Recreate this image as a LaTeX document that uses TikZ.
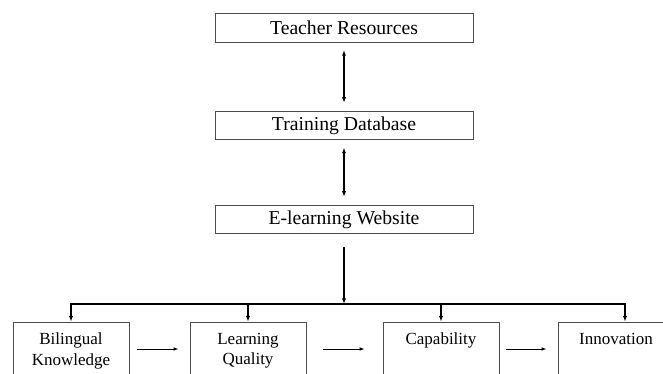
\documentclass[tikz,border=0pt]{standalone}
\usepackage{fontspec}
\setmainfont{Liberation Serif}
\usetikzlibrary{arrows.meta}

\begin{document}
\begin{tikzpicture}[x=0.03cm, y=-0.03cm,
    topbox/.style={draw=black!70, line width=0.7pt, minimum width=7.74cm,
      minimum height=0.86cm, inner sep=0pt, font=\fontsize{16.8}{20}\selectfont},
    lowbox/.style={draw=black!70, line width=0.7pt, minimum width=3.48cm,
      minimum height=1.62cm, inner sep=0pt},
    lowtext/.style={anchor=north, yshift=-0.22cm, align=center,
      font=\fontsize{14.5}{17.5}\selectfont},
    bigarrow/.style={line width=1.6pt, -{Latex[length=0.17cm, width=0.13cm]}},
    twoway/.style={line width=1.6pt, {Latex[length=0.17cm, width=0.13cm]}-{Latex[length=0.17cm, width=0.13cm]},
      shorten <=0.22cm, shorten >=0.24cm},
    flow/.style={line width=0.8pt, -{Latex[length=0.15cm, width=0.11cm]}}]

  \useasboundingbox (0,0) rectangle (663,374);

  \node[topbox] (res) at (344,28) {Teacher Resources};
  \node[topbox] (db) at (344,125.5) {Training Database};
  \node[topbox] (web) at (344,219.5) {E-learning Website};

  \node[lowbox, label={[lowtext]north:Bilingual\\Knowledge}] (bil) at (71,349) {};
  \node[lowbox, label={[lowtext]north:Learning\\Quality}] (lrn) at (248,349) {};
  \node[lowbox, label={[lowtext]north:Capability}] (cap) at (441,349) {};
  \node[lowbox, label={[lowtext]north:Innovation}] (inn) at (616,349) {};

  \coordinate (bus) at (344,304);

  \draw[twoway] (res) -- (db);
  \draw[twoway] (db) -- (web);
  \draw[bigarrow, shorten <=0.39cm] (web) -- (bus);

  \draw[bigarrow] (bus) -| (bil);
  \draw[bigarrow] (bus) -| (lrn);
  \draw[bigarrow] (bus) -| (cap);
  \draw[bigarrow] (bus) -| ([xshift=0.27cm]inn.north);

  \draw[flow, shorten <=0.24cm, shorten >=0.33cm] (bil) -- (lrn);
  \draw[flow, shorten <=0.51cm, shorten >=0.54cm] (lrn) -- (cap);
  \draw[flow, shorten <=0.21cm, shorten >=0.33cm] (cap) -- (inn);
\end{tikzpicture}
\end{document}
